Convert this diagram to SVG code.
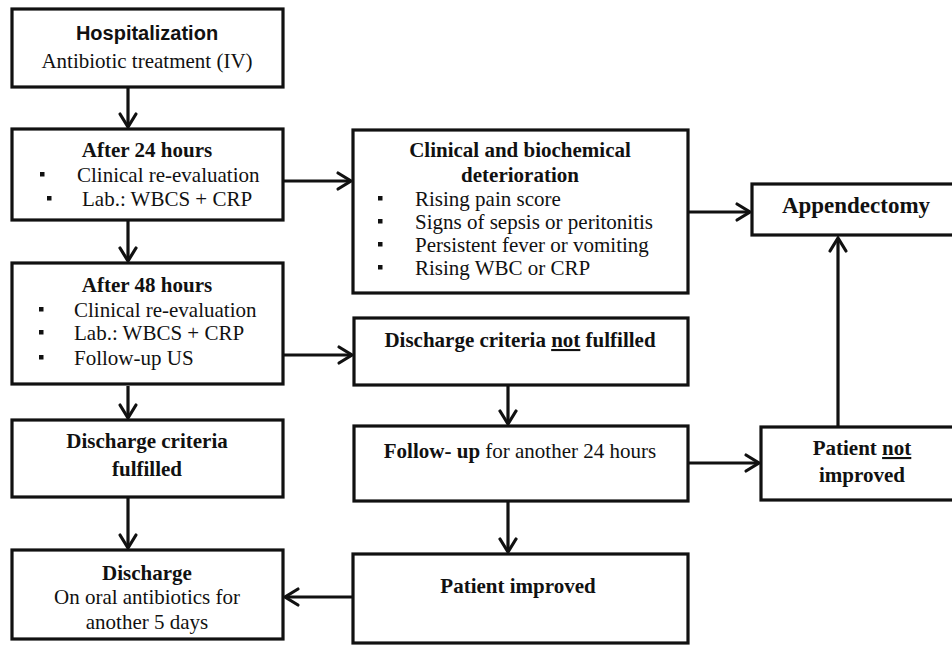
<svg xmlns="http://www.w3.org/2000/svg" width="952" height="647" viewBox="0 0 952 647">
<defs>
<marker id="ah" markerUnits="userSpaceOnUse" markerWidth="30" markerHeight="30" viewBox="-20 -15 30 30" refX="0" refY="0" orient="auto">
<path d="M-13,-8 L0,0 L-13,8" fill="none" stroke="#111" stroke-width="3.2" stroke-linecap="round" stroke-linejoin="miter"/>
</marker>
</defs>
<style>
rect.box{fill:#fff;stroke:#111;stroke-width:3.2}
text{font-family:"Liberation Serif","Times New Roman",serif;font-size:21px;fill:#111}
.b{font-weight:bold}
.c{text-anchor:middle}
.sans{font-family:"Liberation Sans",Arial,sans-serif;font-size:20px;font-weight:bold}
.u{text-decoration:underline}
rect.bul{fill:#111;stroke:none}
#connectors line{stroke:#111;stroke-width:3.2;marker-end:url(#ah)}
</style>
<rect width="952" height="647" fill="#fff"/>

<g id="connectors">
<line x1="128" y1="88" x2="128" y2="127"/>
<line x1="128" y1="221" x2="128" y2="261"/>
<line x1="284" y1="181" x2="351" y2="181"/>
<line x1="284" y1="355" x2="352" y2="355"/>
<line x1="128" y1="386" x2="128" y2="418"/>
<line x1="128" y1="498" x2="128" y2="548"/>
<line x1="689" y1="212" x2="750" y2="212"/>
<line x1="508" y1="386" x2="508" y2="424"/>
<line x1="689" y1="463" x2="759" y2="463"/>
<line x1="838" y1="426" x2="838" y2="238"/>
<line x1="508" y1="502" x2="508" y2="552"/>
<line x1="352" y1="597" x2="285" y2="597"/>
</g>

<g id="hospitalization">
<rect class="box" x="12" y="9" width="271" height="78"/>
<text class="sans c" x="147" y="40">Hospitalization</text>
<text class="c" x="147" y="68">Antibiotic treatment (IV)</text>
</g>

<g id="after24">
<rect class="box" x="12" y="129" width="271" height="91"/>
<text class="b c" x="147" y="157">After 24 hours</text>
<rect class="bul" x="40" y="172" width="4.5" height="4.5"/>
<text x="77" y="182">Clinical re-evaluation</text>
<rect class="bul" x="47" y="196" width="4.5" height="4.5"/>
<text x="82" y="206">Lab.: WBCS + CRP</text>
</g>

<g id="after48">
<rect class="box" x="12" y="263" width="271" height="121"/>
<text class="b c" x="147" y="292">After 48 hours</text>
<rect class="bul" x="39" y="307" width="4.5" height="4.5"/>
<text x="74" y="317">Clinical re-evaluation</text>
<rect class="bul" x="39" y="330" width="4.5" height="4.5"/>
<text x="74" y="340">Lab.: WBCS + CRP</text>
<rect class="bul" x="39" y="355" width="4.5" height="4.5"/>
<text x="74" y="365">Follow-up US</text>
</g>

<g id="criteria-fulfilled">
<rect class="box" x="12" y="420" width="271" height="77"/>
<text class="b c" x="147" y="448">Discharge criteria</text>
<text class="b c" x="147" y="476">fulfilled</text>
</g>

<g id="discharge">
<rect class="box" x="12" y="550" width="271" height="89"/>
<text class="b c" x="147" y="580">Discharge</text>
<text class="c" x="147" y="604">On oral antibiotics for</text>
<text class="c" x="147" y="629">another 5 days</text>
</g>

<g id="deterioration">
<rect class="box" x="353" y="130" width="335" height="163"/>
<text class="b c" x="520" y="157">Clinical and biochemical</text>
<text class="b c" x="520" y="182">deterioration</text>
<rect class="bul" x="378" y="196" width="4.5" height="4.5"/>
<text x="415" y="206">Rising pain score</text>
<rect class="bul" x="378" y="219" width="4.5" height="4.5"/>
<text x="415" y="229">Signs of sepsis or peritonitis</text>
<rect class="bul" x="378" y="242" width="4.5" height="4.5"/>
<text x="415" y="252">Persistent fever or vomiting</text>
<rect class="bul" x="378" y="265" width="4.5" height="4.5"/>
<text x="415" y="275">Rising WBC or CRP</text>
</g>

<g id="criteria-not-fulfilled">
<rect class="box" x="354" y="318" width="334" height="67"/>
<text class="b c" x="520" y="347">Discharge criteria <tspan class="u">not</tspan> fulfilled</text>
</g>

<g id="follow-up">
<rect class="box" x="354" y="426" width="334" height="75"/>
<text class="c" x="520" y="458"><tspan class="b">Follow- up</tspan> for another 24 hours</text>
</g>

<g id="patient-improved">
<rect class="box" x="353" y="554" width="335" height="89"/>
<text class="b c" x="518" y="593">Patient improved</text>
</g>

<g id="appendectomy">
<rect class="box" x="752" y="184" width="215" height="51"/>
<text class="b c" x="856" y="213" style="font-size:23px">Appendectomy</text>
</g>

<g id="patient-not-improved">
<rect class="box" x="761" y="427" width="205" height="73"/>
<text class="b c" x="862" y="455">Patient <tspan class="u">not</tspan></text>
<text class="b c" x="862" y="482">improved</text>
</g>
</svg>
